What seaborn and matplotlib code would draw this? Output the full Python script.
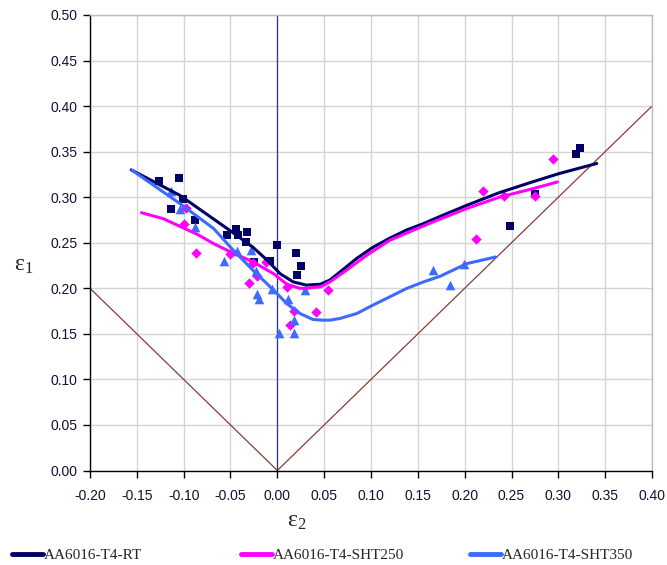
import matplotlib
matplotlib.use("Agg")
import matplotlib.pyplot as plt
import seaborn as sns
import pandas as pd
import numpy as np
from matplotlib.lines import Line2D

# ---------------- data ----------------
rt_x = [-0.126, -0.105, -0.101, -0.113, -0.088, -0.054, -0.044, -0.042, -0.032, -0.033,
        -0.025, -0.008, 0.000, 0.020, 0.025, 0.021, 0.248, 0.275, 0.319, 0.323]
rt_y = [0.318, 0.321, 0.298, 0.287, 0.275, 0.258, 0.265, 0.258, 0.262, 0.251,
        0.229, 0.230, 0.248, 0.239, 0.224, 0.215, 0.268, 0.304, 0.347, 0.354]

sht250_x = [-0.098, -0.100, -0.087, -0.051, -0.026, -0.012, -0.022, -0.030, 0.010,
            0.054, 0.018, 0.041, 0.014, 0.212, 0.220, 0.242, 0.275, 0.294]
sht250_y = [0.288, 0.271, 0.239, 0.238, 0.228, 0.229, 0.213, 0.206, 0.201,
            0.198, 0.175, 0.174, 0.160, 0.254, 0.307, 0.301, 0.301, 0.342]

sht350_x = [-0.113, -0.104, -0.088, -0.057, -0.043, -0.028, -0.023, -0.022, -0.020,
            -0.006, 0.011, 0.030, 0.018, 0.002, 0.018, 0.166, 0.184, 0.199]
sht350_y = [0.307, 0.287, 0.267, 0.230, 0.241, 0.242, 0.219, 0.194, 0.188,
            0.199, 0.188, 0.198, 0.165, 0.151, 0.151, 0.220, 0.204, 0.227]

rt_curve_x = [-0.156, -0.104, -0.050, -0.026, -0.011, 0.003, 0.017, 0.031, 0.046, 0.056,
              0.067, 0.085, 0.102, 0.120, 0.138, 0.156, 0.174, 0.202, 0.237, 0.273, 0.301, 0.341]
rt_curve_y = [0.330, 0.302, 0.263, 0.245, 0.231, 0.216, 0.207, 0.2035, 0.2045, 0.209,
              0.218, 0.233, 0.245, 0.255, 0.264, 0.271, 0.279, 0.291, 0.305, 0.317, 0.326, 0.337]

sht250_curve_x = [-0.145, -0.122, -0.104, -0.085, -0.068, -0.050, -0.026, -0.004, 0.010,
                  0.024, 0.031, 0.038, 0.046, 0.056, 0.074, 0.095, 0.120, 0.145, 0.166,
                  0.202, 0.237, 0.273, 0.299]
sht250_curve_y = [0.283, 0.2765, 0.268, 0.259, 0.249, 0.240, 0.229, 0.216, 0.2045,
                  0.200, 0.1998, 0.201, 0.2015, 0.207, 0.220, 0.236, 0.2527, 0.2637, 0.2728,
                  0.2875, 0.300, 0.3094, 0.3167]

sht350_curve_x = [-0.155, -0.104, -0.068, -0.047, -0.026, -0.004, 0.010, 0.024, 0.038,
                  0.049, 0.056, 0.067, 0.085, 0.102, 0.120, 0.138, 0.156, 0.174, 0.202, 0.233]
sht350_curve_y = [0.3295, 0.293, 0.2656, 0.2418, 0.2198, 0.198, 0.1833, 0.1724, 0.1658,
                  0.165, 0.165, 0.1669, 0.1724, 0.1815, 0.1906, 0.1998, 0.207, 0.2133, 0.227, 0.2344]

# reference lines eps1 = |eps2|
ref_x = [-0.20, 0.00, 0.40]
ref_y = [0.20, 0.00, 0.40]

labels = ["AA6016-T4-RT", "AA6016-T4-SHT250", "AA6016-T4-SHT350"]
colors = ["#000066", "#FF00FF", "#3D6BFF"]

xticks = [-0.20, -0.15, -0.10, -0.05, 0.00, 0.05, 0.10, 0.15, 0.20, 0.25, 0.30, 0.35, 0.40]
yticks = [0.00, 0.05, 0.10, 0.15, 0.20, 0.25, 0.30, 0.35, 0.40, 0.45, 0.50]

# ---------------- figure ----------------
sns.set_theme(style="white")
plt.rcParams["font.family"] = ["Liberation Sans", "DejaVu Sans"]
plt.rcParams["mathtext.fontset"] = "custom"
plt.rcParams["mathtext.rm"] = "Liberation Serif"
plt.rcParams["mathtext.it"] = "Liberation Serif"

fig = plt.figure(figsize=(6.67, 5.65), dpi=100)
ax = fig.add_axes([90 / 667, 1 - 470.5 / 565, (652 - 90) / 667, (470.5 - 15) / 565])

ax.set_xlim(-0.20, 0.40)
ax.set_ylim(0.0, 0.50)
ax.set_xticks(xticks)
ax.set_yticks(yticks)
ax.set_xticklabels([f"{v:.2f}" for v in xticks])
ax.set_yticklabels([f"{v:.2f}" for v in yticks])
ax.grid(True, color="#D4D4D4", linewidth=1.0)
ax.set_axisbelow(True)
ax.tick_params(axis="both", direction="out", length=5, width=1, color="black",
               labelsize=10, labelcolor="#111133", bottom=True, left=True)
ax.tick_params(axis="x", pad=8)
ax.tick_params(axis="y", pad=4)
for s in ["left", "bottom"]:
    ax.spines[s].set_color("black")
    ax.spines[s].set_linewidth(1.0)
for s in ["top", "right"]:
    ax.spines[s].set_color("#BBBBBB")
    ax.spines[s].set_linewidth(1.0)

# reference V lines and vertical axis line
sns.lineplot(x=ref_x, y=ref_y, ax=ax, color="#8B3A3A", linewidth=0.9, sort=False,
             estimator=None)
ax.axvline(0.0, color="#333399", linewidth=0.9)

# scatter points
sns.scatterplot(x=rt_x, y=rt_y, ax=ax, marker="s", s=32, color=colors[0], linewidth=0, zorder=3)
sns.scatterplot(x=sht250_x, y=sht250_y, ax=ax, marker="D", s=28, color=colors[1], linewidth=0, zorder=3)
sns.scatterplot(x=sht350_x, y=sht350_y, ax=ax, marker="^", s=48, color=colors[2], linewidth=0, zorder=3)

# smoothed curves
curves = [(rt_curve_x, rt_curve_y), (sht250_curve_x, sht250_curve_y), (sht350_curve_x, sht350_curve_y)]
for (cx, cy), c in zip(curves, colors):
    df = pd.DataFrame({"x": cx, "y": cy})
    sns.lineplot(data=df, x="x", y="y", ax=ax, color=c, linewidth=2.2, sort=False,
                 estimator=None, zorder=4)

ax.set_xlabel("ε$_2$", fontsize=17, va="center", ha="center", family="Liberation Serif")
ax.xaxis.set_label_coords((297 - 90) / 562, -(521 - 470.5) / 455.5)
ax.set_ylabel("ε$_1$", fontsize=17, rotation=0, va="center", ha="center", family="Liberation Serif")
ax.yaxis.set_label_coords((24 - 90) / 562, (470.5 - 265) / 455.5)

# legend (three entries spread along the bottom)
leg_x = [12 / 667, 241 / 667, 470 / 667]
for lx, lab, c in zip(leg_x, labels, colors):
    h = Line2D([0], [0], color=c, linewidth=3.5)
    fig.legend(handles=[h], labels=[lab], loc="center left",
               bbox_to_anchor=(lx, 1 - 555 / 565), frameon=False,
               handlelength=2.0, handletextpad=0.1, borderaxespad=0, borderpad=0,
               prop={"family": "Liberation Serif", "size": 11})

fig.savefig("out.png", dpi=100)
